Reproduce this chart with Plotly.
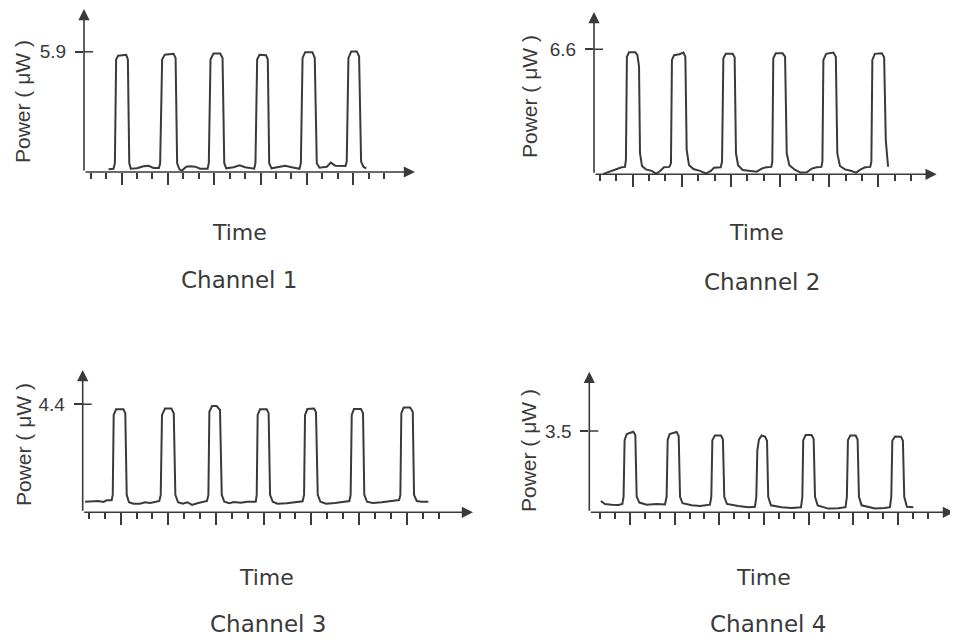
import plotly.graph_objects as go

# ---------------- data (time in tick divisions, power in microwatts) ----------------
ch1_t = [2.16, 2.48, 2.57, 2.65, 2.78, 3.30, 3.41, 3.50, 3.60, 3.99, 4.42, 4.75, 5.07, 5.42,
         5.50, 5.63, 5.80, 6.37, 6.50, 6.60, 6.75, 6.91, 7.19, 7.44, 7.77, 8.09, 8.57,
         8.65, 8.76, 8.95, 9.39, 9.54, 9.65, 9.78, 10.25, 10.64, 11.00, 11.59,
         11.67, 11.78, 11.93, 12.36, 12.47, 12.56, 12.71, 13.16, 13.59, 14.02, 14.52,
         14.61, 14.72, 14.89, 15.36, 15.51, 15.64, 15.82, 16.29, 16.55, 16.83, 17.50,
         17.58, 17.69, 17.87, 18.23, 18.38, 18.51, 18.66, 18.84]
ch1_p = [0.13, 0.16, 0.43, 5.52, 5.71, 5.75, 5.52, 0.43, 0.16, 0.18, 0.28, 0.30, 0.20, 0.20,
         0.43, 5.52, 5.76, 5.80, 5.60, 0.43, 0.13, 0.07, 0.26, 0.28, 0.26, 0.16, 0.16,
         0.43, 5.52, 5.81, 5.81, 5.60, 0.43, 0.18, 0.23, 0.33, 0.23, 0.16,
         0.43, 5.52, 5.75, 5.73, 5.52, 0.43, 0.18, 0.26, 0.31, 0.23, 0.16,
         0.43, 5.60, 5.88, 5.88, 5.60, 0.43, 0.21, 0.26, 0.46, 0.31, 0.30,
         0.51, 5.60, 5.91, 5.91, 5.68, 0.51, 0.26, 0.18]

ch2_t = [1.21, 1.61, 2.02, 2.33, 2.53, 2.59, 2.65, 2.78, 3.16, 3.29, 3.39, 3.45, 3.57, 3.81,
         4.16, 4.43, 4.67, 4.91, 5.24, 5.34, 5.40, 5.53, 5.85, 6.10, 6.22, 6.30, 6.44,
         6.71, 7.11, 7.48, 7.77, 7.97, 8.38, 8.46, 8.54, 8.69, 9.11, 9.23, 9.31, 9.44,
         9.72, 10.17, 10.58, 10.88, 11.15, 11.47, 11.53, 11.59, 11.74, 12.16, 12.31,
         12.41, 12.57, 12.92, 13.26, 13.63, 13.94, 14.24, 14.53, 14.59, 14.65, 14.82,
         15.26, 15.41, 15.50, 15.66, 15.97, 16.32, 16.65, 16.93, 17.20, 17.51, 17.58,
         17.64, 17.79, 18.22, 18.36, 18.46, 18.60]
ch2_p = [0.02, 0.16, 0.28, 0.37, 0.39, 0.76, 6.21, 6.44, 6.44, 6.30, 5.69, 1.11, 0.44, 0.26,
         0.18, 0.04, 0.16, 0.37, 0.39, 0.58, 6.04, 6.29, 6.34, 6.43, 6.21, 1.29, 0.49,
         0.28, 0.18, 0.04, 0.18, 0.35, 0.37, 0.67, 6.13, 6.37, 6.36, 6.18, 1.11, 0.48,
         0.23, 0.18, 0.14, 0.30, 0.37, 0.39, 0.67, 6.13, 6.39, 6.39, 6.21,
         1.11, 0.48, 0.23, 0.09, 0.11, 0.30, 0.37, 0.39, 0.67, 6.04, 6.36,
         6.43, 6.21, 1.11, 0.44, 0.26, 0.19, 0.09, 0.26, 0.37, 0.39, 0.67,
         6.04, 6.36, 6.39, 6.18, 1.81, 0.40]

ch3_t = [0.76, 1.28, 1.59, 1.91, 2.12, 2.43, 2.50, 2.56, 2.71, 3.17, 3.29, 3.38, 3.52, 3.80,
         4.22, 4.53, 4.85, 5.22, 5.43, 5.52, 5.60, 5.79, 6.19, 6.34, 6.44, 6.61, 6.90,
         7.20, 7.49, 7.82, 8.20, 8.43, 8.52, 8.58, 8.75, 9.04, 9.25, 9.36, 9.52, 9.84,
         10.13, 10.55, 10.97, 11.50, 11.56, 11.62, 11.77, 12.19, 12.31, 12.40, 12.57,
         12.86, 13.45, 14.03, 14.45, 14.54, 14.60, 14.75, 15.17, 15.29, 15.40, 15.57,
         15.92, 16.49, 17.05, 17.39, 17.47, 17.54, 17.68, 18.12, 18.25, 18.33, 18.50,
         18.86, 19.43, 20.00, 20.52, 20.60, 20.66, 20.81, 21.21, 21.38, 21.46, 21.63,
         21.94, 22.36]
ch3_p = [0.43, 0.43, 0.46, 0.42, 0.49, 0.49, 0.71, 3.97, 4.20, 4.20, 4.04, 0.71, 0.41, 0.35,
         0.35, 0.41, 0.38, 0.43, 0.46, 0.71, 3.97, 4.23, 4.23, 4.04, 0.71, 0.41, 0.35,
         0.41, 0.30, 0.37, 0.41, 0.46, 0.71, 4.10, 4.33, 4.33, 4.17, 0.71, 0.43, 0.37,
         0.42, 0.39, 0.43, 0.43, 0.71, 3.97, 4.20, 4.20, 4.04, 0.71, 0.43,
         0.35, 0.37, 0.42, 0.45, 0.71, 3.97, 4.21, 4.23, 4.08, 0.71, 0.43,
         0.35, 0.38, 0.42, 0.46, 0.71, 3.97, 4.21, 4.21, 4.04, 0.71, 0.43,
         0.38, 0.41, 0.45, 0.50, 0.71, 4.04, 4.27, 4.27, 4.10, 0.71, 0.46,
         0.43, 0.43]

ch4_t = [1.05, 1.32, 1.77, 2.22, 2.49, 2.57, 2.64, 2.78, 3.22, 3.36, 3.45, 3.63, 4.12, 4.79,
         5.35, 5.46, 5.53, 5.66, 6.13, 6.27, 6.36, 6.53, 7.14, 7.70, 8.37, 8.46, 8.53,
         8.70, 9.11, 9.24, 9.33, 9.51, 10.27, 10.94, 11.39, 11.48, 11.55, 11.66, 11.84,
         12.06, 12.20, 12.28, 12.46, 13.18, 13.85, 14.48, 14.57, 14.63, 14.79, 15.19,
         15.33, 15.42, 15.60, 16.31, 16.98, 17.47, 17.56, 17.63, 17.79, 18.15, 18.28,
         18.37, 18.55, 19.44, 20.11, 20.45, 20.54, 20.61, 20.79, 21.19, 21.32, 21.41,
         21.59, 22.02]
ch4_p = [0.49, 0.36, 0.33, 0.32, 0.36, 0.67, 3.11, 3.37, 3.47, 3.33, 0.67, 0.42, 0.33, 0.36,
         0.34, 0.67, 3.11, 3.37, 3.46, 3.29, 0.67, 0.39, 0.30, 0.27, 0.33, 0.67, 3.11,
         3.31, 3.31, 3.14, 0.67, 0.36, 0.27, 0.22, 0.24, 0.67, 2.68, 3.14, 3.31,
         3.26, 3.08, 0.67, 0.30, 0.22, 0.19, 0.22, 0.67, 3.11, 3.33, 3.33,
         3.16, 0.67, 0.30, 0.16, 0.17, 0.22, 0.67, 3.11, 3.31, 3.31, 3.14,
         0.67, 0.30, 0.16, 0.19, 0.22, 0.67, 3.08, 3.27, 3.26, 3.08, 0.67,
         0.24, 0.22]

peak_ticks = [5.9, 6.6, 4.4, 3.5]
peak_tick_text = ["5.9", "6.6", "4.4", "3.5"]
channel_names = ["Channel 1", "Channel 2", "Channel 3", "Channel 4"]
x_title = "Time"
y_title = "Power ( \u03bcW )"
n_ticks = [20, 20, 23, 23]      # time divisions drawn on each axis
major_every = 3

series = [(ch1_t, ch1_p), (ch2_t, ch2_p), (ch3_t, ch3_p), (ch4_t, ch4_p)]

# ---------------- layout (pixel geometry of each panel, in window pixels) ----------------
OFF = 8                      # default page margin around the plot div
W, H = 958 - OFF, 644 - OFF  # figure size so that the div ends at the window edge
INK = "#3a3a3a"


def fx(px):
    return (px - OFF) / W


def fy(py):
    return 1 - (py - OFF) / H


panels = [
    dict(px0=84.0, px1=415.0, py0=172.0, py1=9.0, xr=[0.57, 22.0], yr=[0, 8.0],
         ylab=(23, 102), time=(239, 233), chan=(239, 280)),
    dict(px0=594.0, px1=936.7, py0=174.3, py1=12.0, xr=[0.64, 21.57], yr=[0, 8.57],
         ylab=(529, 97), time=(756, 233), chan=(762, 282)),
    dict(px0=82.7, px1=473.0, py0=512.3, py1=370.0, xr=[0.61, 25.17], yr=[0, 5.80],
         ylab=(23, 445), time=(266, 577), chan=(268, 624)),
    dict(px0=589.3, px1=954.0, py0=512.3, py1=371.7, xr=[0.27, 24.75], yr=[0, 6.06],
         ylab=(528, 451), time=(763, 577), chan=(768, 624)),
]

fig = go.Figure()
layout = dict(template="none", width=W, height=H, autosize=False,
              margin=dict(l=0, r=0, t=0, b=0, pad=0, autoexpand=False),
              paper_bgcolor="white", plot_bgcolor="white",
              showlegend=False, annotations=[], shapes=[])

time_font = dict(family="DejaVu Sans, Verdana, sans-serif", size=22, color=INK)
chan_font = dict(family="DejaVu Sans, Verdana, sans-serif", size=23, color=INK)
ylab_font = dict(family="Liberation Sans, Arial, sans-serif", size=21, color=INK)
tick_font = dict(family="Liberation Sans, Arial, sans-serif", size=19, color=INK)

for i, (pan, (t, p)) in enumerate(zip(panels, series)):
    k = "" if i == 0 else str(i + 1)
    xa, ya = "x" + k, "y" + k
    fig.add_trace(go.Scatter(x=t, y=p, xaxis=xa, yaxis=ya, mode="lines",
                             line=dict(color=INK, width=2),
                             hoverinfo="skip", cliponaxis=False))
    ticks_all = list(range(1, n_ticks[i] + 1))
    majors = [v for v in ticks_all if v % major_every == 0 and v < n_ticks[i] - 1]
    minors = [v for v in ticks_all if v not in majors]
    layout["xaxis" + k] = dict(
        domain=[fx(pan["px0"]), fx(pan["px1"])], range=pan["xr"], anchor=ya,
        automargin=False,
        showgrid=False, zeroline=False, showline=False, showticklabels=False,
        tickmode="array", tickvals=majors, ticks="outside", ticklen=12,
        tickwidth=1.5, tickcolor=INK,
        minor=dict(tickmode="array", tickvals=minors, ticks="outside", ticklen=6,
                   tickwidth=1.5, tickcolor=INK))
    layout["yaxis" + k] = dict(
        domain=[fy(pan["py0"]), fy(pan["py1"])], range=pan["yr"], anchor=xa,
        automargin=False,
        showgrid=False, zeroline=False, showline=False,
        tickmode="array", tickvals=[peak_ticks[i]], ticktext=[peak_tick_text[i]],
        ticks="outside", ticklen=8, tickwidth=1.5, tickcolor=INK,
        tickfont=tick_font, ticklabelstandoff=5)
    x0, x1 = pan["xr"]
    y0, y1 = pan["yr"]
    # inner half of the level tick
    layout["shapes"].append(dict(type="line", xref=xa, yref=ya, xsizemode="pixel",
                                 xanchor=x0, x0=0, x1=9, y0=peak_ticks[i], y1=peak_ticks[i],
                                 line=dict(color=INK, width=1.5)))
    # axes with arrow heads
    for (hx, hy) in [(x1, y0), (x0, y1)]:
        layout["annotations"].append(dict(
            x=hx, y=hy, ax=x0, ay=y0, xref=xa, yref=ya, axref=xa, ayref=ya,
            text="", showarrow=True, arrowhead=2, arrowsize=1.4, arrowwidth=1.6,
            arrowcolor=INK, standoff=0, startstandoff=0))
    # texts
    for (pos, txt, fnt, ang) in [(pan["ylab"], y_title, ylab_font, -90),
                                 (pan["time"], x_title, time_font, 0),
                                 (pan["chan"], channel_names[i], chan_font, 0)]:
        layout["annotations"].append(dict(
            x=fx(pos[0]), y=fy(pos[1]), xref="paper", yref="paper",
            xanchor="center", yanchor="middle", text=txt, textangle=ang,
            showarrow=False, font=fnt))

fig.update_layout(**layout)
fig.write_html("out.html")
